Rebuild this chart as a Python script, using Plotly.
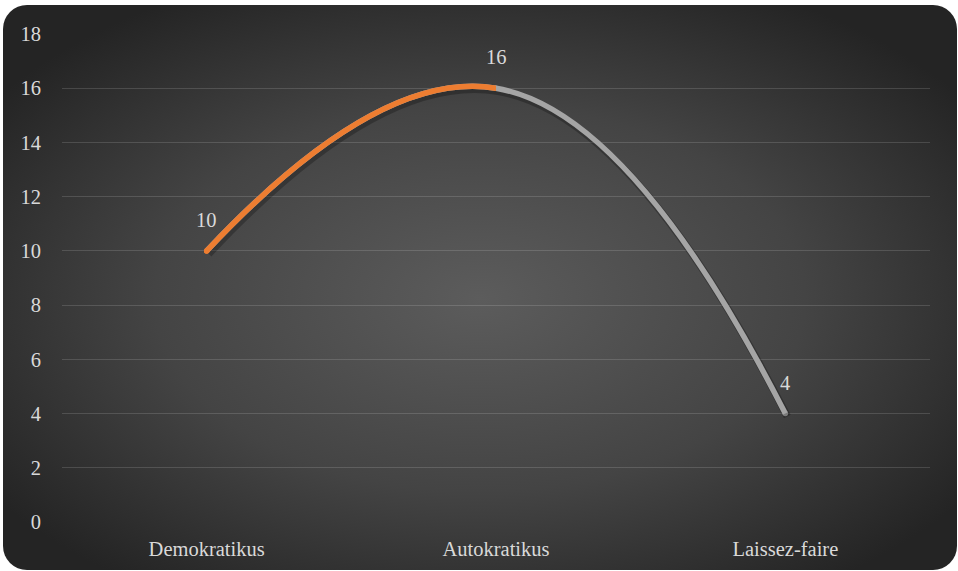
import plotly.graph_objects as go
import urllib.parse

categories = ["Demokratikus", "Autokratikus", "Laissez-faire"]
values = [10, 16, 4]
y_ticks = [0, 2, 4, 6, 8, 10, 12, 14, 16, 18]

ORANGE = "#ED7D31"
GRAY = "#A5A5A5"
TEXT = "#D9D9D9"
FONT = "Liberation Serif"
FS = 20.5

W, H = 958, 571
L, R, T, B = 62, 28, 34, 49
pw, ph = W - L - R, H - T - B

# background: rounded rect with radial gradient (SVG data URI)
bx0, by0, bx1, by1 = 3, 5, 957, 570
svg = f'''<svg xmlns="http://www.w3.org/2000/svg" width="{bx1-bx0}" height="{by1-by0}" viewBox="0 0 {bx1-bx0} {by1-by0}">
<defs><radialGradient id="g" cx="50%" cy="52%" r="62%">
<stop offset="0" stop-color="#5c5c5c"/><stop offset="0.55" stop-color="#444444"/><stop offset="1" stop-color="#242424"/>
</radialGradient></defs>
<rect x="0" y="0" width="{bx1-bx0}" height="{by1-by0}" rx="24" ry="24" fill="url(#g)"/></svg>'''
src = "data:image/svg+xml;charset=utf-8," + urllib.parse.quote(svg)

SMOOTH = 1.3
LW = 5.5
px = 18 / ph  # data units per pixel on y
idx = list(range(len(categories)))

fig = go.Figure()

# main axes: end caps only (carry the category labels)
fig.add_trace(go.Scatter(
    x=categories, y=values, mode="markers",
    marker=dict(color=[ORANGE, GRAY, GRAY], size=LW), hoverinfo="skip", showlegend=False))

# soft shadow: same curve on an overlaid axis pair shifted a few pixels
fig.add_trace(go.Scatter(
    x=idx, y=values, mode="lines",
    line=dict(color="rgba(0,0,0,0.25)", width=LW + 2, shape="spline", smoothing=SMOOTH, simplify=False),
    hoverinfo="skip", showlegend=False, xaxis="x2", yaxis="y2"))

# full curve in gray
fig.add_trace(go.Scatter(
    x=idx, y=values, mode="lines",
    line=dict(color=GRAY, width=LW, shape="spline", smoothing=SMOOTH, simplify=False),
    hoverinfo="skip", showlegend=False, xaxis="x3", yaxis="y3"))

# orange first segment: same curve on an overlaid axis whose domain ends at the middle category
fig.add_trace(go.Scatter(
    x=idx, y=values, mode="lines",
    line=dict(color=ORANGE, width=LW, shape="spline", smoothing=SMOOTH, simplify=False),
    hoverinfo="skip", showlegend=False, xaxis="x4", yaxis="y4"))
fig.add_trace(go.Scatter(
    x=idx[:1], y=values[:1], mode="markers",
    marker=dict(color=ORANGE, size=LW), hoverinfo="skip", showlegend=False,
    xaxis="x4", yaxis="y4"))

for c, v in zip(categories, values):
    fig.add_annotation(x=c, y=v, text=str(v), showarrow=False, yshift=31,
                       font=dict(family=FONT, size=FS, color=TEXT))

hidden = dict(visible=False, fixedrange=True)
fig.update_layout(
    width=W, height=H,
    margin=dict(l=L, r=R, t=T, b=B),
    paper_bgcolor="white", plot_bgcolor="rgba(0,0,0,0)",
    font=dict(family=FONT, size=FS, color=TEXT),
    xaxis=dict(range=[-0.5, 2.5], domain=[0, 1], showgrid=False, zeroline=False,
               showline=False, ticks="", tickfont=dict(family=FONT, size=FS, color=TEXT),
               ticklabelstandoff=12, fixedrange=True),
    yaxis=dict(range=[0, 18], tickvals=y_ticks, showgrid=True,
               gridcolor="rgba(255,255,255,0.14)", gridwidth=1, zeroline=False,
               showline=False, ticks="", tickfont=dict(family=FONT, size=FS, color=TEXT),
               ticklabelstandoff=20, fixedrange=True),
    xaxis2=dict(range=[-0.5 - 3 * 2 / pw, 2.5 - 3 * 2 / pw], domain=[0, 1], anchor="y2",
                overlaying="x", **hidden),
    yaxis2=dict(range=[3 * px, 18 + 3 * px], domain=[0, 1], anchor="x2", overlaying="y", **hidden),
    xaxis3=dict(range=[-0.5, 2.5], domain=[0, 1], anchor="y3", overlaying="x", **hidden),
    yaxis3=dict(range=[0, 18], domain=[0, 1], anchor="x3", overlaying="y", **hidden),
    xaxis4=dict(range=[-0.5, 1], domain=[0, 0.5], anchor="y4", **hidden),
    yaxis4=dict(range=[0, 18], domain=[0, 1], anchor="x4", overlaying="y", **hidden),
    images=[dict(source=src, xref="paper", yref="paper",
                 x=(bx0 - L) / pw, y=1 + (T - by0) / ph,
                 sizex=(bx1 - bx0) / pw, sizey=(by1 - by0) / ph,
                 sizing="stretch", xanchor="left", yanchor="top", layer="below")],
)

fig.write_html("out.html", config={"displayModeBar": False},
               post_script="document.body.style.margin='0';")
